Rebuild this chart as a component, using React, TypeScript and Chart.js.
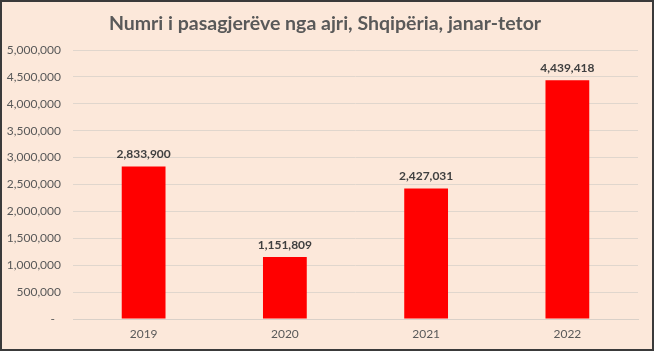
import React, { useEffect, useRef } from "react";
import { Chart, registerables } from "chart.js";

Chart.register(...registerables);

const categories = ["2019", "2020", "2021", "2022"];
const passengers = [2833900, 1151809, 2427031, 4439418];
const yTicksMax = 5000000;
const yTickStep = 500000;
const titleText = "Numri i pasagjerëve nga ajri, Shqipëria, janar-tetor";

const fmt = (v: number) => v.toLocaleString("en-US");

export default function App() {
  const ref = useRef<HTMLCanvasElement | null>(null);
  useEffect(() => {
    document.body.style.margin = "0";
    const canvas = ref.current!;
    const bgPlugin = {
      id: "bg",
      beforeDraw(chart: any) {
        const { ctx, width, height } = chart;
        ctx.save();
        ctx.fillStyle = "#fce8da";
        ctx.fillRect(0, 0, width, height);
        ctx.strokeStyle = "#3a3a3a";
        ctx.lineWidth = 2;
        ctx.strokeRect(1, 1, width - 2, height - 2);
        ctx.fillStyle = "#595959";
        ctx.font = "bold 19.5px Lato, 'Open Sans', sans-serif";
        ctx.textAlign = "center";
        ctx.textBaseline = "middle";
        ctx.fillText(titleText, width / 2 - 2, 24);
        ctx.restore();
      },
      afterDatasetsDraw(chart: any) {
        const { ctx } = chart;
        const meta = chart.getDatasetMeta(0);
        ctx.save();
        ctx.fillStyle = "#404040";
        ctx.font = "bold 12px Lato, 'Open Sans', sans-serif";
        ctx.textAlign = "center";
        ctx.textBaseline = "middle";
        meta.data.forEach((el: any, i: number) => {
          ctx.fillText(fmt(passengers[i]), el.x, el.y - 12);
        });
        ctx.restore();
      },
    };
    const chart = new Chart(canvas, {
      type: "bar",
      data: {
        labels: categories,
        datasets: [
          {
            data: passengers,
            backgroundColor: "#ff0000",
            borderWidth: 0,
            categoryPercentage: 1,
            barPercentage: 0.31,
          },
        ],
      },
      options: {
        responsive: false,
        animation: false,
        layout: { padding: { top: 50, right: 16, left: 0, bottom: 0 } },
        plugins: {
          legend: { display: false },
          title: { display: false },
          tooltip: { enabled: false },
        },
        scales: {
          x: {
            grid: { display: false, drawTicks: false },
            border: { display: true, color: "#d9d0c8" },
            ticks: {
              color: "#595959",
              font: { size: 12, family: "Lato, 'Open Sans', sans-serif" },
              padding: 8,
            },
            afterFit(scale: any) {
              scale.height = 32;
            },
          },
          y: {
            min: 0,
            max: yTicksMax,
            grid: { color: "#e0d6cd", drawTicks: false },
            border: { display: false },
            ticks: {
              stepSize: yTickStep,
              color: "#595959",
              font: { size: 12, family: "Lato, 'Open Sans', sans-serif" },
              padding: 12,
              callback: (v: any) => (Number(v) === 0 ? "-  " : fmt(Number(v))),
            },
            afterFit(scale: any) {
              scale.width = 73;
            },
          },
        },
      },
      plugins: [bgPlugin],
    });
    return () => chart.destroy();
  }, []);
  return <canvas ref={ref} width={654} height={351} style={{ display: "block" }} />;
}
